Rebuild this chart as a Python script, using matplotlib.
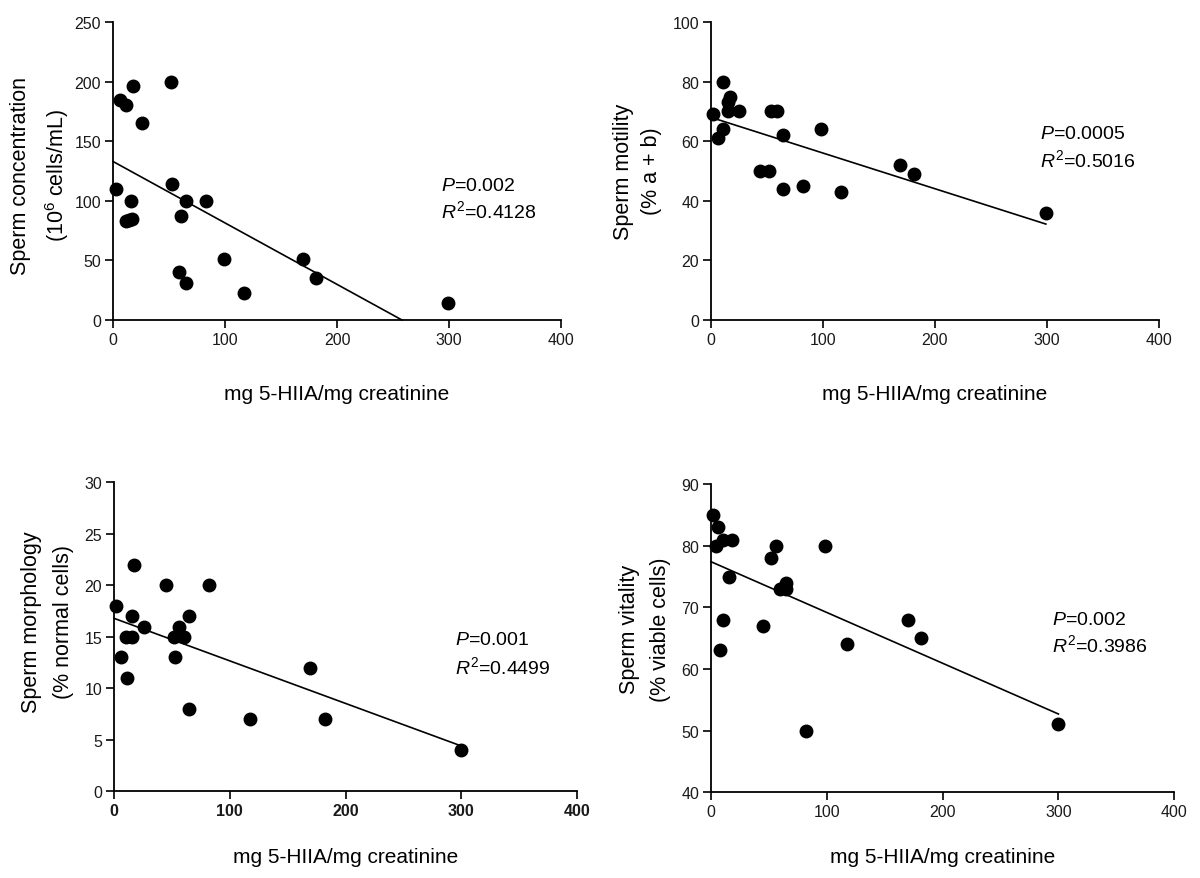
import matplotlib
matplotlib.use("Agg")
import matplotlib.pyplot as plt
import numpy as np

plt.rcParams['font.family'] = ['Liberation Sans', 'DejaVu Sans']
plt.rcParams['mathtext.fontset'] = 'custom'
plt.rcParams['mathtext.rm'] = 'Liberation Sans'
plt.rcParams['mathtext.it'] = 'Liberation Sans:italic'

# ---------------- data ----------------
xlabel = "mg 5-HIIA/mg creatinine"
xticks = [0, 100, 200, 300, 400]

# Panel A: sperm concentration
conc_x = [2.4, 6.6, 11.3, 18.2, 26.2, 52.1, 52.7, 64.9, 82.8, 60.4, 15.8, 11.9, 14.5, 17.0,
          59.0, 64.9, 99.1, 117.0, 169.4, 181.6, 298.8]
conc_y = [110, 185, 180, 196, 165, 200, 114, 100, 100, 87, 100, 83, 84, 85,
          40, 31, 51, 23, 51, 35, 14]
conc_fit_x = [0, 258]
conc_fit_y = [133, 0]
conc_yticks = [0, 50, 100, 150, 200, 250]

# Panel B: sperm motility
mot_x = [1.5, 10.4, 5.9, 10.4, 14.9, 14.9, 17.2, 25.3, 53.8, 59.2, 64.0, 43.8, 51.8, 64.0,
         81.9, 98.3, 116.5, 168.9, 181.1, 299.0]
mot_y = [69, 80, 61, 64, 70, 73, 75, 70, 70, 70, 62, 50, 50, 44,
         45, 64, 43, 52, 49, 36]
mot_fit_x = [0, 299]
mot_fit_y = [68, 32.2]
mot_yticks = [0, 20, 40, 60, 80, 100]

# Panel C: sperm morphology
morph_x = [1.7, 5.8, 11.0, 10.4, 15.8, 15.8, 17.6, 25.6, 44.9, 51.8, 52.7, 56.1, 60.7, 64.8,
           64.8, 82.3, 117.4, 169.5, 181.9, 299.7]
morph_y = [18, 13, 11, 15, 15, 17, 22, 16, 20, 15, 13, 16, 15, 17,
           8, 20, 7, 12, 7, 4]
morph_fit_x = [0, 300]
morph_fit_y = [16.8, 4.4]
morph_yticks = [0, 5, 10, 15, 20, 25, 30]

# Panel D: sperm vitality
vit_x = [2.0, 6.3, 4.3, 10.6, 18.4, 15.8, 10.6, 7.8, 45.2, 52.1, 56.1, 59.6, 64.8, 64.8,
         82.0, 98.7, 117.2, 169.9, 181.6, 300.0]
vit_y = [85, 83, 80, 81, 81, 75, 68, 63, 67, 78, 80, 73, 74, 73,
         50, 80, 64, 68, 65, 51]
vit_fit_x = [0, 300]
vit_fit_y = [77.4, 52.7]
vit_yticks = [40, 50, 60, 70, 80, 90]

panels = [
    dict(rect=[0.0942, 0.6348, 0.3733, 0.339], x=conc_x, y=conc_y, fx=conc_fit_x, fy=conc_fit_y,
         yticks=conc_yticks, ylab1="Sperm concentration", ylab2="(10$^{6}$ cells/mL)",
         yl1=-0.2076, yl2=-0.125, ylc=0.488, xly=-0.248, bold=False,
         stat=("$\\mathit{P}$=0.002", "$\\mathit{R}^{2}$=0.4128"), sx=0.733, sy=(0.451, 0.370)),
    dict(rect=[0.5925, 0.6348, 0.3733, 0.339], x=mot_x, y=mot_y, fx=mot_fit_x, fy=mot_fit_y,
         yticks=mot_yticks, ylab1="Sperm motility", ylab2="(% a + b)",
         yl1=-0.196, yl2=-0.132, ylc=0.5015, xly=-0.248, bold=False,
         stat=("$\\mathit{P}$=0.0005", "$\\mathit{R}^{2}$=0.5016"), sx=0.734, sy=(0.6245, 0.541)),
    dict(rect=[0.095, 0.0986, 0.386, 0.3515], x=morph_x, y=morph_y, fx=morph_fit_x, fy=morph_fit_y,
         yticks=morph_yticks, ylab1="Sperm morphology", ylab2="(% normal cells)",
         yl1=-0.178, yl2=-0.1095, ylc=0.552, xly=-0.21, bold=True,
         stat=("$\\mathit{P}$=0.001", "$\\mathit{R}^{2}$=0.4499"), sx=0.7365, sy=(0.49, 0.4065)),
    dict(rect=[0.5925, 0.0975, 0.386, 0.3507], x=vit_x, y=vit_y, fx=vit_fit_x, fy=vit_fit_y,
         yticks=vit_yticks, ylab1="Sperm vitality", ylab2="(% viable cells)",
         yl1=-0.175, yl2=-0.110, ylc=0.53, xly=-0.208, bold=False,
         stat=("$\\mathit{P}$=0.002", "$\\mathit{R}^{2}$=0.3986"), sx=0.737, sy=(0.562, 0.481)),
]

fig = plt.figure(figsize=(12, 8.79), dpi=100)

for p in panels:
    ax = fig.add_axes(p['rect'])
    ax.plot(p['x'], p['y'], 'o', color='black', markersize=9, clip_on=False, zorder=3)
    ax.plot(p['fx'], p['fy'], '-', color='black', linewidth=1.2, clip_on=False)
    ax.set_xlim(0, 400)
    ax.set_ylim(p['yticks'][0], p['yticks'][-1])
    ax.set_xticks(xticks)
    ax.set_yticks(p['yticks'])
    for s in ['top', 'right']:
        ax.spines[s].set_visible(False)
    for s in ['left', 'bottom']:
        ax.spines[s].set_linewidth(1.3)
    ax.tick_params(direction='out', length=6, width=1.2, labelsize=11.5, colors='black',
                   labelcolor='#1a1a1a', pad=2.5)
    if p['bold']:
        for lab in ax.get_xticklabels():
            lab.set_fontweight('bold')
    ax.text(p['yl1'], p['ylc'], p['ylab1'], rotation=90, transform=ax.transAxes,
            ha='center', va='center', fontsize=15.5)
    ax.text(p['yl2'], p['ylc'], p['ylab2'], rotation=90, transform=ax.transAxes,
            ha='center', va='center', fontsize=15.5)
    ax.text(0.5, p['xly'], xlabel, transform=ax.transAxes, ha='center', va='center', fontsize=15)
    ax.text(p['sx'], p['sy'][0], p['stat'][0], transform=ax.transAxes, ha='left', va='center', fontsize=14)
    ax.text(p['sx'], p['sy'][1], p['stat'][1], transform=ax.transAxes, ha='left', va='center', fontsize=14)

fig.savefig("out.png", dpi=100)
